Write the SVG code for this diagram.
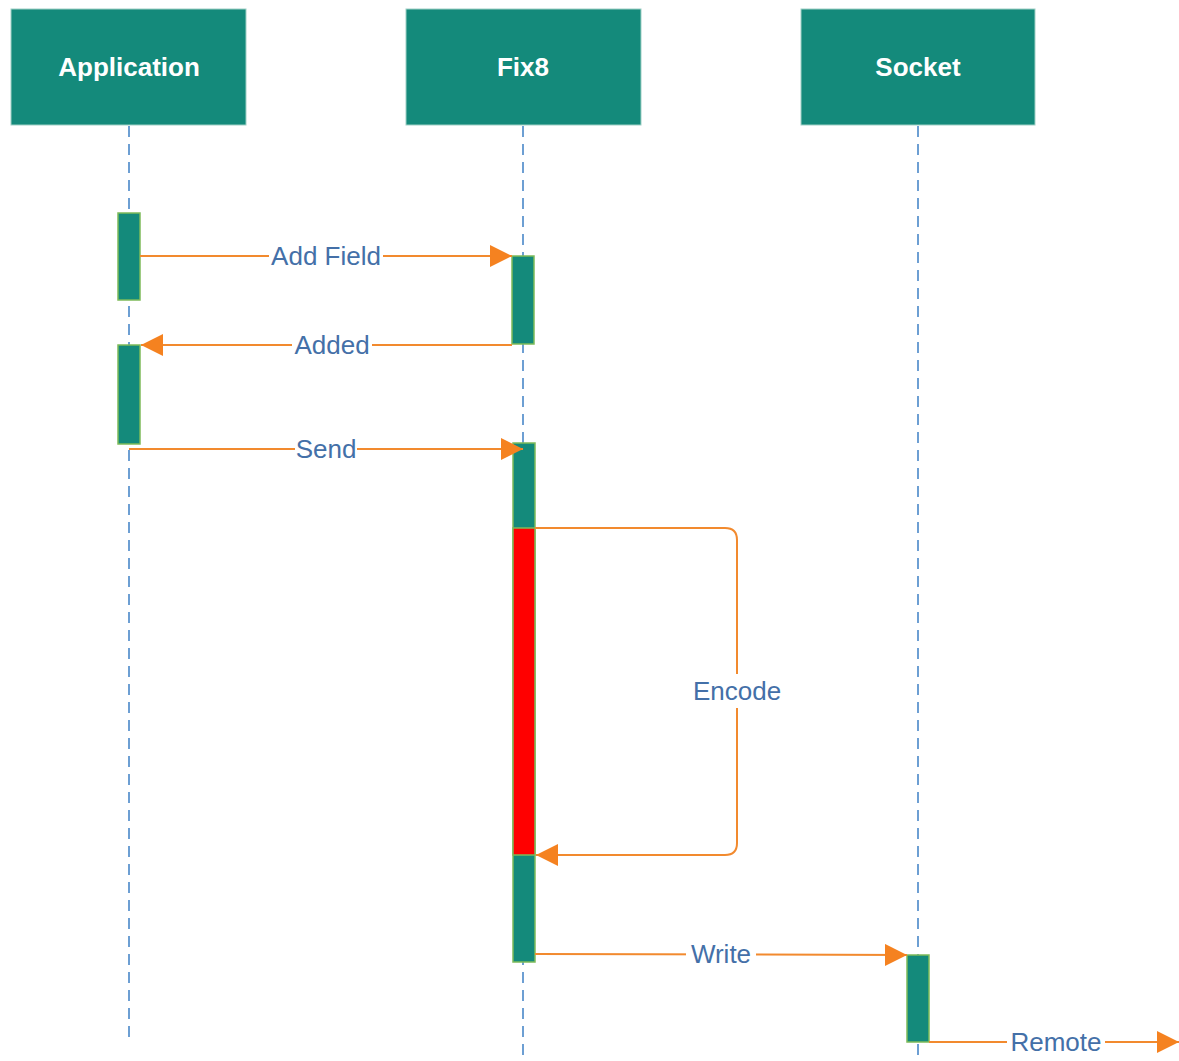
<svg xmlns="http://www.w3.org/2000/svg" width="1179" height="1061" viewBox="0 0 1179 1061">
<style>
.head{fill:#148a7b;stroke:#9fd0c6;stroke-width:1}
.ht{font-family:"Liberation Sans",Arial,sans-serif;font-weight:bold;font-size:26px;fill:#ffffff;text-anchor:middle}
.life{stroke:#6d9fd3;stroke-width:2;stroke-dasharray:11 7;fill:none}
.act{fill:#148a7b;stroke:#7dbb5a;stroke-width:1.5}
.msg{stroke:#f28a2e;stroke-width:2;fill:none}
.lbl{font-family:"Liberation Sans",Arial,sans-serif;font-size:26px;fill:#4470a8;text-anchor:middle}
.bg{fill:#ffffff}
</style>
<defs>
<marker id="ah" viewBox="0 0 10 10" refX="10" refY="5" markerWidth="11" markerHeight="11" markerUnits="userSpaceOnUse" orient="auto">
<path d="M0,0 L10,5 L0,10 Z" fill="#f58220"/>
</marker>
<marker id="ahb" viewBox="0 0 10 10" refX="10" refY="5" markerWidth="22" markerHeight="22" markerUnits="userSpaceOnUse" orient="auto">
<path d="M0,0 L10,5 L0,10 Z" fill="#f58220"/>
</marker>
</defs>
<rect width="1179" height="1061" fill="#ffffff"/>
<g id="lifelines">
<line class="life" x1="129" y1="126" x2="129" y2="1043"/>
<line class="life" x1="523" y1="126" x2="523" y2="1061"/>
<line class="life" x1="918" y1="126" x2="918" y2="1061"/>
</g>
<g id="node-application">
<rect class="head" x="11" y="9" width="235" height="116"/>
<text class="ht" x="129" y="76">Application</text>
</g>
<g id="node-fix8">
<rect class="head" x="406" y="9" width="235" height="116"/>
<text class="ht" x="523" y="76">Fix8</text>
</g>
<g id="node-socket">
<rect class="head" x="801" y="9" width="234" height="116"/>
<text class="ht" x="918" y="76">Socket</text>
</g>
<g id="activations">
<rect id="act-app-1" class="act" x="118" y="213" width="22" height="87"/>
<rect id="act-app-2" class="act" x="118" y="345" width="22" height="99"/>
<rect id="act-fix8-1" class="act" x="512" y="256" width="22" height="88"/>
<rect id="act-fix8-2" class="act" x="513" y="443" width="22" height="519"/>
<rect id="act-fix8-encode" x="513" y="528" width="22" height="327" fill="#ff0000" stroke="#7dbb5a" stroke-width="1.5"/>
<rect id="act-socket" class="act" x="907" y="955" width="22" height="87"/>
</g>
<g id="connectors">
<line class="msg" x1="140" y1="256" x2="512" y2="256" marker-end="url(#ahb)"/>
<line class="msg" x1="512" y1="345" x2="141" y2="345" marker-end="url(#ahb)"/>
<line class="msg" x1="129" y1="449" x2="523" y2="449" marker-end="url(#ahb)"/>
<path class="msg" d="M535,528 H725 Q737,528 737,540 V843 Q737,855 725,855 H536" marker-end="url(#ahb)"/>
<line class="msg" x1="535" y1="954" x2="907" y2="955" marker-end="url(#ahb)"/>
<line class="msg" x1="929" y1="1042" x2="1179" y2="1042" marker-end="url(#ahb)"/>
<g id="labels">
<rect class="bg" x="269" y="241" width="114" height="30"/>
<text class="lbl" x="326" y="265">Add Field</text>
<rect class="bg" x="292" y="330" width="80" height="30"/>
<text class="lbl" x="332" y="354">Added</text>
<rect class="bg" x="295" y="434" width="62" height="30"/>
<text class="lbl" x="326" y="458">Send</text>
<rect class="bg" x="692" y="674" width="92" height="34"/>
<text class="lbl" x="737" y="700">Encode</text>
<rect class="bg" x="686" y="939" width="70" height="30"/>
<text class="lbl" x="721" y="963">Write</text>
<rect class="bg" x="1007" y="1027" width="98" height="30"/>
<text class="lbl" x="1056" y="1051">Remote</text>
</g>
</g>
</svg>
